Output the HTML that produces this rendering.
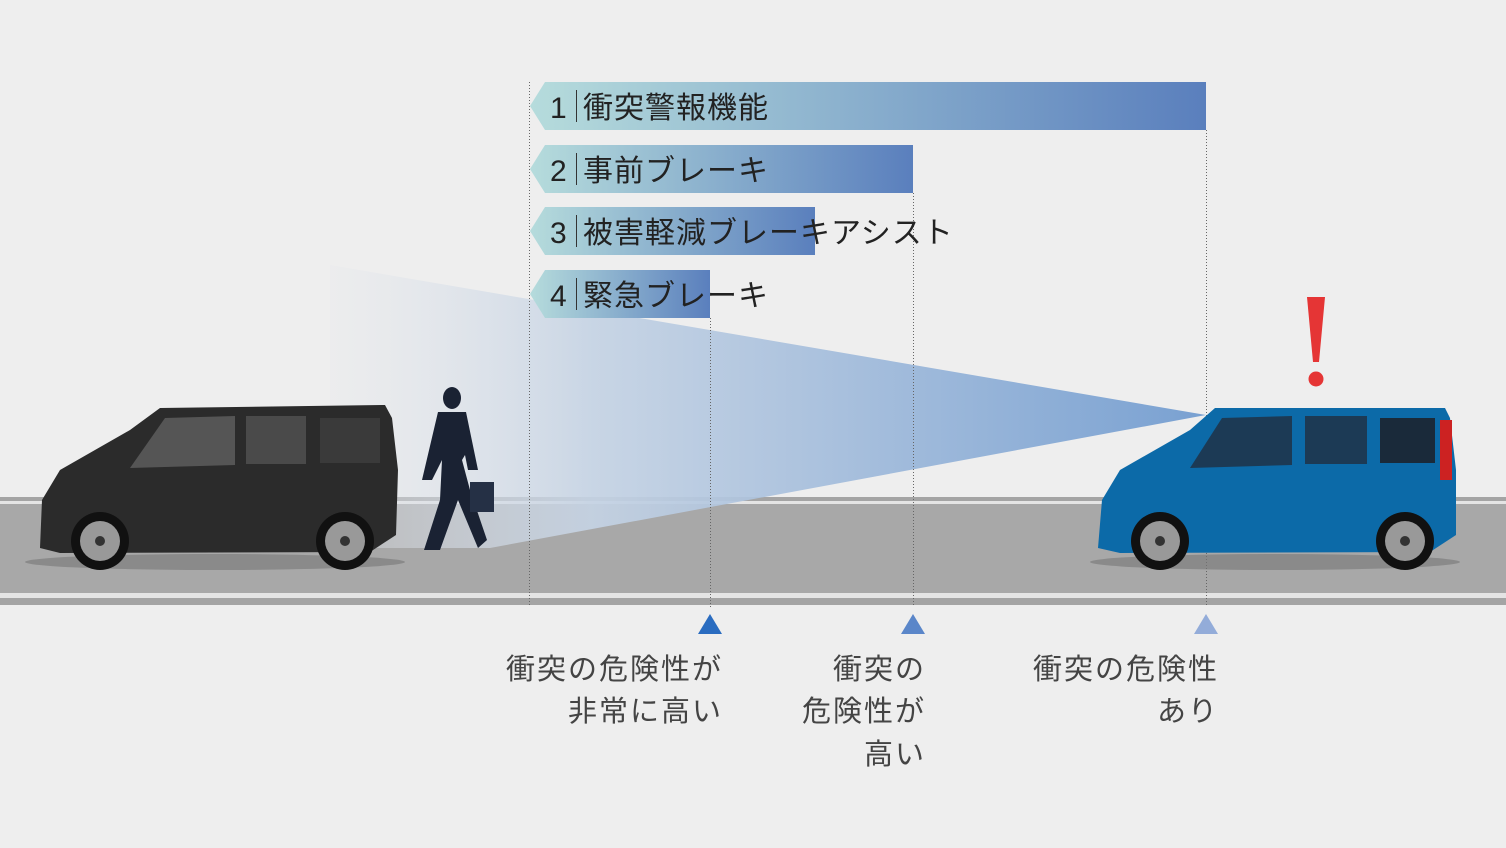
<!DOCTYPE html>
<html><head><meta charset="utf-8"><style>
body{margin:0;background:#eeeeee;}
svg{display:block}
text{font-family:"Liberation Sans","Noto Sans CJK JP",sans-serif;}
</style></head><body>
<svg width="1506" height="848" viewBox="0 0 1506 848" xmlns="http://www.w3.org/2000/svg">
<defs>
<linearGradient id="bar" x1="530" x2="1206" gradientUnits="userSpaceOnUse">
<stop offset="0" stop-color="#b6dcdc"/><stop offset="1" stop-color="#5a7fbd"/></linearGradient>
<linearGradient id="bar2" x1="530" x2="913" gradientUnits="userSpaceOnUse">
<stop offset="0" stop-color="#b6dcdc"/><stop offset="1" stop-color="#5a7fbd"/></linearGradient>
<linearGradient id="bar3" x1="530" x2="815" gradientUnits="userSpaceOnUse">
<stop offset="0" stop-color="#b6dcdc"/><stop offset="1" stop-color="#5a7fbd"/></linearGradient>
<linearGradient id="bar4" x1="530" x2="710" gradientUnits="userSpaceOnUse">
<stop offset="0" stop-color="#b6dcdc"/><stop offset="1" stop-color="#5a7fbd"/></linearGradient>
<linearGradient id="beam" x1="330" x2="1206" gradientUnits="userSpaceOnUse">
<stop offset="0" stop-color="#e6e8ec" stop-opacity="0.3"/><stop offset="0.3" stop-color="#c5d3e4"/><stop offset="1" stop-color="#6f9acf"/></linearGradient>
</defs>
<rect x="0" y="497" width="1506" height="108" fill="#a4a4a4"/>
<rect x="0" y="501" width="1506" height="3" fill="#e4e4e4"/>
<rect x="0" y="504" width="1506" height="89" fill="#a8a8a8"/>
<rect x="0" y="593" width="1506" height="5" fill="#e4e4e4"/>
<polygon points="330,265 1206,415 490,548 330,548" fill="url(#beam)" opacity="0.92"/>
<g stroke="#666" stroke-width="1" stroke-dasharray="1,2">
<line x1="529.5" y1="82" x2="529.5" y2="607"/>
<line x1="710.5" y1="318" x2="710.5" y2="607"/>
<line x1="913.5" y1="193" x2="913.5" y2="607"/>
<line x1="1206.5" y1="130" x2="1206.5" y2="607"/>
</g>
<polygon points="545,82 1206,82 1206,130 545,130 530,106" fill="url(#bar)"/>
<polygon points="545,145 913,145 913,193 545,193 530,169" fill="url(#bar2)"/>
<polygon points="545,207 815,207 815,255 545,255 530,231" fill="url(#bar3)"/>
<polygon points="545,270 710,270 710,318 545,318 530,294" fill="url(#bar4)"/>
<g fill="#222" font-size="30" letter-spacing="1">
<text x="550" y="118">1</text><text x="583" y="118">衝突警報機能</text>
<text x="550" y="181">2</text><text x="583" y="181">事前ブレーキ</text>
<text x="550" y="243">3</text><text x="583" y="243">被害軽減ブレーキアシスト</text>
<text x="550" y="306">4</text><text x="583" y="306">緊急ブレーキ</text>
</g>
<g stroke="#333" stroke-width="1">
<line x1="576.5" y1="90" x2="576.5" y2="122"/><line x1="576.5" y1="153" x2="576.5" y2="185"/>
<line x1="576.5" y1="215" x2="576.5" y2="247"/><line x1="576.5" y1="278" x2="576.5" y2="310"/>
</g>
<ellipse cx="215" cy="562" rx="190" ry="8" fill="#777" opacity="0.6"/>
<path d="M40,548 L42,500 L60,470 L130,430 L160,408 L385,405 L392,418 L398,470 L396,535 L370,552 L60,553 Z" fill="#2b2b2b"/>
<path d="M130,468 L165,418 L235,416 L235,465 Z" fill="#555"/>
<rect x="246" y="416" width="60" height="48" fill="#4a4a4a"/>
<rect x="320" y="418" width="60" height="45" fill="#3a3a3a"/>
<circle cx="100" cy="541" r="29" fill="#111"/><circle cx="100" cy="541" r="20" fill="#999"/><circle cx="100" cy="541" r="5" fill="#333"/>
<circle cx="345" cy="541" r="29" fill="#111"/><circle cx="345" cy="541" r="20" fill="#999"/><circle cx="345" cy="541" r="5" fill="#333"/>
<g fill="#1a2233">
<ellipse cx="452" cy="398" rx="9" ry="11"/>
<path d="M438,412 L466,412 L478,470 L468,470 L465,455 L462,460 L470,490 L487,540 L478,548 L458,500 L440,550 L424,550 L440,500 L442,460 L432,480 L422,480 Z"/>
<rect x="470" y="482" width="24" height="30" fill="#253045"/>
</g>
<ellipse cx="1275" cy="562" rx="185" ry="8" fill="#777" opacity="0.6"/>
<path d="M1098,548 L1102,500 L1120,470 L1190,430 L1215,408 L1445,408 L1450,418 L1456,470 L1456,535 L1430,552 L1120,553 Z" fill="#0c6aa8"/>
<path d="M1190,468 L1222,418 L1292,416 L1292,465 Z" fill="#1c3a55"/>
<rect x="1305" y="416" width="62" height="48" fill="#1c3a55"/>
<rect x="1380" y="418" width="55" height="45" fill="#1a2a3a"/>
<rect x="1440" y="420" width="12" height="60" fill="#c22"/>
<circle cx="1160" cy="541" r="29" fill="#111"/><circle cx="1160" cy="541" r="20" fill="#999"/><circle cx="1160" cy="541" r="5" fill="#333"/>
<circle cx="1405" cy="541" r="29" fill="#111"/><circle cx="1405" cy="541" r="20" fill="#999"/><circle cx="1405" cy="541" r="5" fill="#333"/>
<path d="M1307,297 L1325,297 L1319,362 L1313,362 Z" fill="#e53535"/>
<circle cx="1316" cy="379" r="7.5" fill="#e53535"/>
<polygon points="710,614 722,634 698,634" fill="#2a6cc0"/>
<polygon points="913,614 925,634 901,634" fill="#5a86c9"/>
<polygon points="1206,614 1218,634 1194,634" fill="#93acd9"/>
<g fill="#444" font-size="29" text-anchor="end" letter-spacing="2">
<text x="723" y="679">衝突の危険性が</text><text x="723" y="721">非常に高い</text>
<text x="926" y="679">衝突の</text><text x="926" y="721">危険性が</text><text x="926" y="764">高い</text>
<text x="1219" y="679">衝突の危険性</text><text x="1219" y="721">あり</text>
</g>
</svg>
</body></html>
